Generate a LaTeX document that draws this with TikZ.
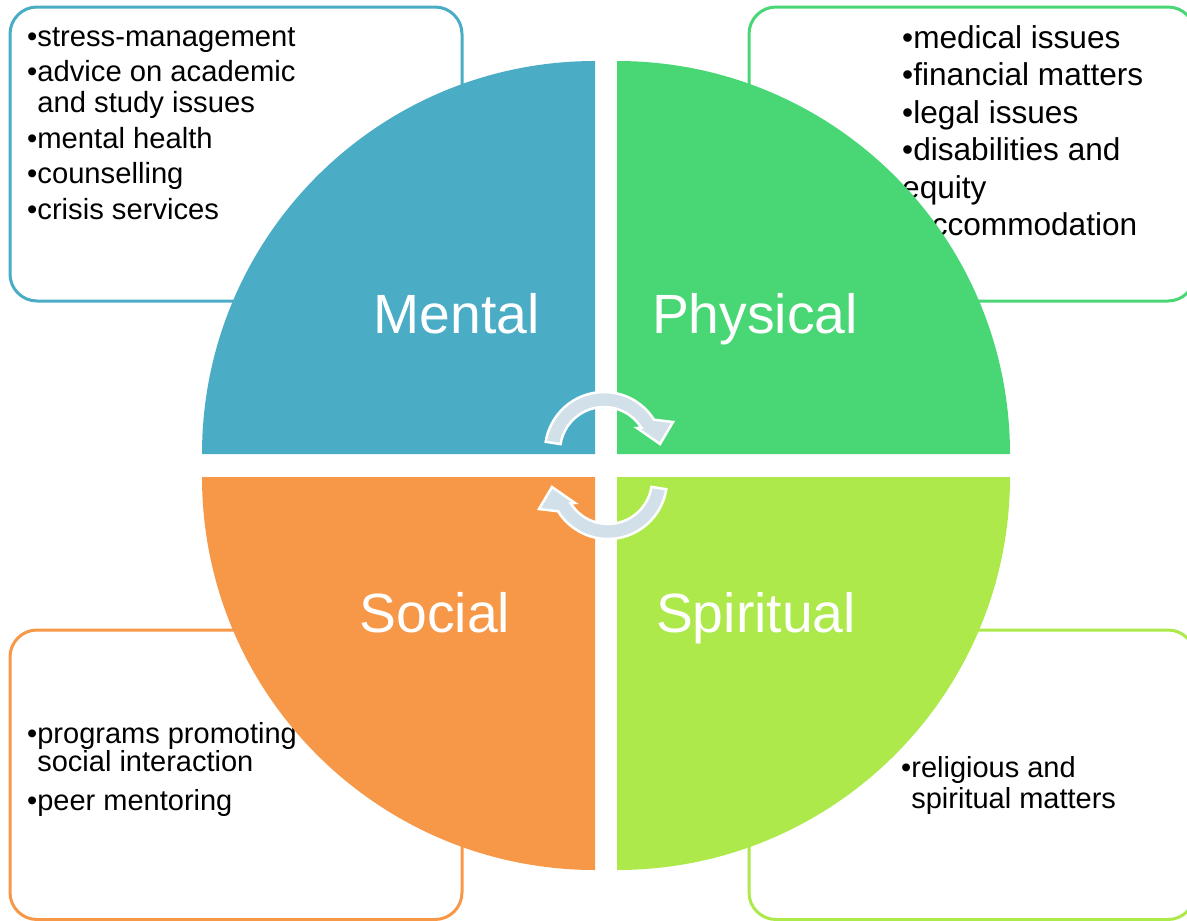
\documentclass[tikz,border=0pt]{standalone}
\usepackage{fontspec}
\setmainfont{Liberation Sans}
\usetikzlibrary{calc}

\definecolor{mentalblue}{RGB}{75,172,198}
\definecolor{physgreen}{RGB}{73,215,117}
\definecolor{socorange}{RGB}{247,152,72}
\definecolor{spirlime}{RGB}{173,233,74}
\definecolor{cyclefill}{RGB}{210,225,233}

\tikzset{
  infobox/.style={draw=#1, line width=3pt, fill=white, rounded corners=27pt},
  infotext/.style={anchor=north west, inner sep=0pt, align=left, text=black},
  quadlabel/.style={anchor=base, inner sep=0pt, text=white, font=\fontsize{55.3}{60}\selectfont},
  cyclearrow/.style={fill=cyclefill, draw=white, line width=2.5pt, line join=miter}
}

\begin{document}
\begin{tikzpicture}[x=1pt,y=-1pt]
  \useasboundingbox (0,0) rectangle (1187,921);
  \clip (0,0) rectangle (1187,921);

  % boxes behind the circle
  \draw[infobox=mentalblue] (10,7) rectangle (462,301);
  \draw[infobox=physgreen] (749,7) rectangle (1195,301);
  \draw[infobox=socorange] (10,630) rectangle (462,919.5);
  \draw[infobox=spirlime] (749,630) rectangle (1195,919.5);

  \node[infotext, font=\fontsize{29.2}{31}\selectfont] (mentallist) at (27,21) {\rule{0pt}{25pt}•stress-management\\[4.5pt]
    •advice on academic\\ \phantom{•}and study issues\\[4.5pt]
    •mental health\\[4.5pt] •counselling\\[4.5pt] •crisis services};
  \node[infotext, font=\fontsize{31.6}{37.5}\selectfont] (physlist) at (902,23) {\rule{0pt}{25pt}•medical issues\\
    •financial matters\\ •legal issues\\ •disabilities and\\ equity\\ \hspace*{12pt}accommodation};
  \node[infotext, font=\fontsize{29}{28.5}\selectfont] (soclist) at (27,718) {\rule{0pt}{25pt}•programs promoting\\
    \phantom{•}social interaction\\[9.8pt] •peer mentoring};
  \node[infotext, font=\fontsize{29}{31}\selectfont] (spirlist) at (901,752) {\rule{0pt}{25pt}•religious and\\
    \phantom{•}spiritual matters};

  % the four quarters
  \fill[mentalblue] (595,454) -- (202,454) arc[start angle=180, end angle=270, radius=393] -- cycle;
  \fill[physgreen] (617,454) -- (617,61) arc[start angle=270, end angle=360, radius=393] -- cycle;
  \fill[spirlime] (617,477) -- (1010,477) arc[start angle=0, end angle=90, radius=393] -- cycle;
  \fill[socorange] (595,477) -- (595,870) arc[start angle=90, end angle=180, radius=393] -- cycle;

  \node[quadlabel] (mental) at (456.5,333) {Mental};
  \node[quadlabel] (physical) at (755,333) {Physical};
  \node[quadlabel] (social) at (435,632) {Social};
  \node[quadlabel] (spiritual) at (756,632) {Spiritual};

  % cycle arrows
  \coordinate (topc) at (604,451);
  \coordinate (botc) at (608,480);
  \filldraw[cyclearrow] ($(topc)+(189:59)$) arc[start angle=189, end angle=328, radius=59]
    -- (673,422) -- (660,444) -- (637,428) -- ($(topc)+(328:44)$)
    arc[start angle=328, end angle=189, radius=44] -- cycle;
  \filldraw[cyclearrow] ($(botc)+(9:59)$) arc[start angle=9, end angle=148, radius=59]
    -- (539,509) -- (552,487) -- (575,503) -- ($(botc)+(148:44)$)
    arc[start angle=148, end angle=9, radius=44] -- cycle;
\end{tikzpicture}
\end{document}
